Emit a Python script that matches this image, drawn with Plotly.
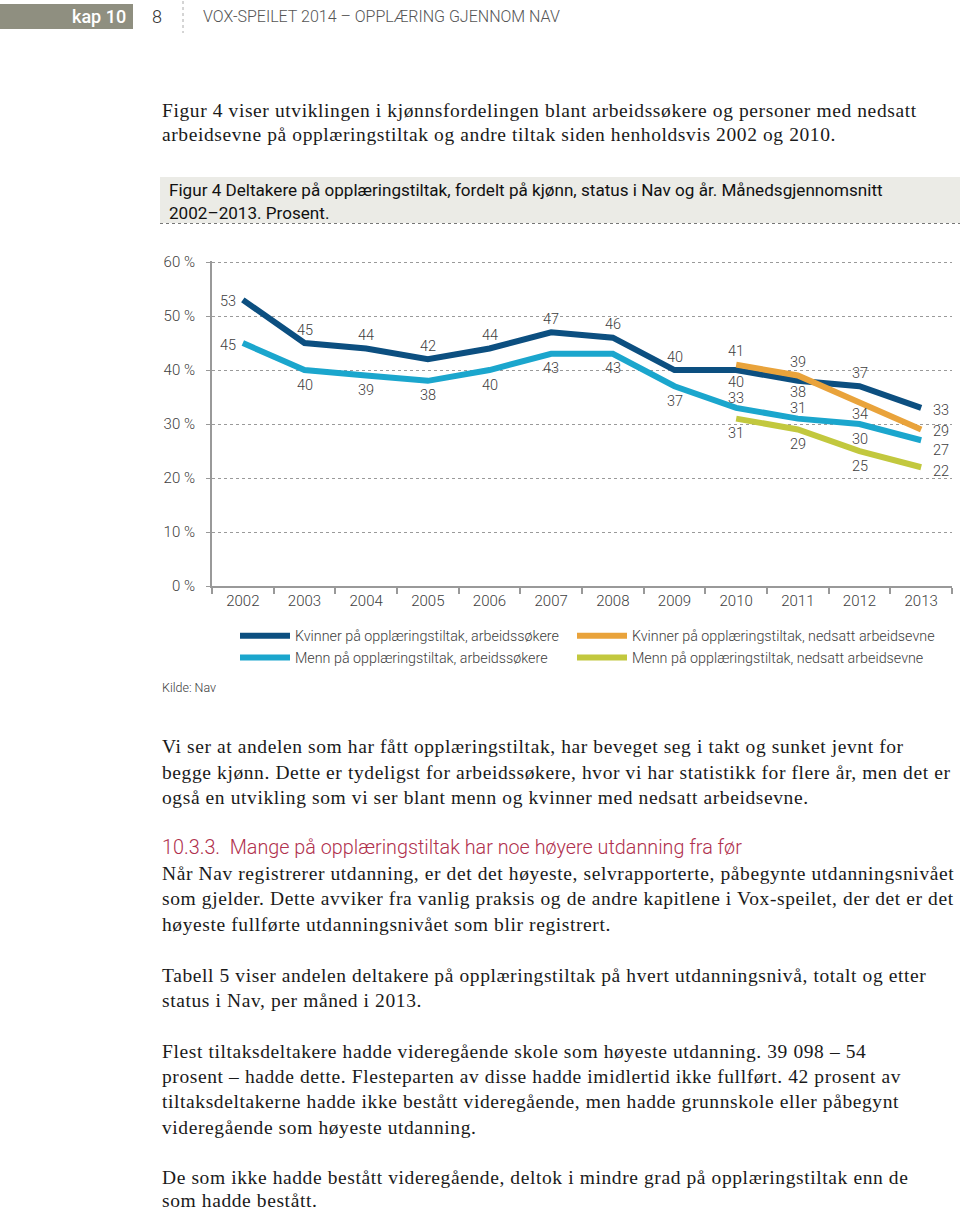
import plotly.graph_objects as go

# ---------------- data ----------------
years = ["2002", "2003", "2004", "2005", "2006", "2007", "2008", "2009", "2010", "2011", "2012", "2013"]
kvinner_arbeidssokere = [53, 45, 44, 42, 44, 47, 46, 40, 40, 38, 37, 33]
menn_arbeidssokere = [45, 40, 39, 38, 40, 43, 43, 37, 33, 31, 30, 27]
years_nedsatt = ["2010", "2011", "2012", "2013"]
kvinner_nedsatt = [41, 39, 34, 29]
menn_nedsatt = [31, 29, 25, 22]
y_ticks = [0, 10, 20, 30, 40, 50, 60]
y_ticklabels = ["0 %", "10 %", "20 %", "30 %", "40 %", "50 %", "60 %"]

names = [
    "Kvinner på opplæringstiltak, arbeidssøkere",
    "Menn på opplæringstiltak, arbeidssøkere",
    "Kvinner på opplæringstiltak, nedsatt arbeidsevne",
    "Menn på opplæringstiltak, nedsatt arbeidsevne",
]

# ---------------- style ----------------
W, H = 960, 1212
L, R, T, B = 212, 8, 261, 626
PW, PH = W - L - R, H - T - B

def xp(px):
    return (px - L) / PW

def yp(py):
    return (H - B - py) / PH

C_DARK = "#0c4f80"
C_LIGHT = "#1ba6cd"
C_ORANGE = "#e9a33b"
C_GREEN = "#c2c83e"
TXT = "#404040"
CHART_FONT = "Roboto"

# label offsets (pixels) per point: (dx, dy)
off_dark = [(-15, -2), (0, 13), (0, 13), (0, 13), (0, 13), (0, 13), (0, 13), (0, 13),
            (0, -12), (0, -11.5), (0, 13), (20, -3)]
off_light = [(-15, -2), (0, -15), (0, -15), (0, -15), (0, -15), (0, -15), (0, -15), (0, -15),
             (0, 9), (0, 10), (0, -15), (20, -10)]
off_orange = [(0, 13), (0, 13), (0, -12), (20, -2)]
off_green = [(0, -15), (0, -15), (0, -15), (20, -4)]

fig = go.Figure()

series = [
    (years, kvinner_arbeidssokere, names[0], C_DARK, 1, off_dark, "legend"),
    (years, menn_arbeidssokere, names[1], C_LIGHT, 2, off_light, "legend"),
    (years_nedsatt, menn_nedsatt, names[3], C_GREEN, 2, off_green, "legend2"),
    (years_nedsatt, kvinner_nedsatt, names[2], C_ORANGE, 1, off_orange, "legend2"),
]

annotations = []
for xs, ys, nm, col, rank, offs, leg in series:
    fig.add_trace(go.Scatter(
        x=xs, y=ys, name=nm, mode="lines",
        line=dict(color=col, width=6, shape="linear"),
        legendrank=rank, legend=leg, hoverinfo="skip",
    ))
    for x, y, (dx, dy) in zip(xs, ys, offs):
        annotations.append(dict(
            x=years.index(x), y=y, xref="x", yref="y", text=str(y), showarrow=False,
            xshift=dx, yshift=dy, xanchor="center", yanchor="middle",
            font=dict(family=CHART_FONT, size=14.5, color=TXT, weight=300),
        ))

# ---------------- page text ----------------
SERIF = "Liberation Serif"

def line(text, px, py, size=19.5, family=SERIF, color="#1a1a1a", weight=400, spacing=None):
    if spacing is not None:
        text = '<span style="letter-spacing:%spx">%s</span>' % (spacing, text)
    annotations.append(dict(
        x=xp(px), y=yp(py), xref="paper", yref="paper", text=text,
        showarrow=False, xanchor="left", yanchor="middle",
        font=dict(family=family, size=size, color=color, weight=weight),
    ))

def body(text, px, py):
    line(text, px, py, size=19.5, spacing=0.6)

# header
annotations.append(dict(x=xp(128), y=yp(16.5), xref="paper", yref="paper", text="kap 10",
                        showarrow=False, xanchor="right", yanchor="middle",
                        font=dict(family="Roboto", size=18, color="white", weight=500)))
line("8", 150, 16.5, size=18, family="Roboto", color="#333333", weight=300)
line("VOX-SPEILET 2014 – OPPLÆRING GJENNOM NAV", 201, 17, size=16.0, family="Roboto",
     color="#555555", weight=300)

body("Figur 4 viser utviklingen i kjønnsfordelingen blant arbeidssøkere og personer med nedsatt", 160, 110)
body("arbeidsevne på opplæringstiltak og andre tiltak siden henholdsvis 2002 og 2010.", 160, 135)

line("Figur 4 Deltakere på opplæringstiltak, fordelt på kjønn, status i Nav og år. Månedsgjennomsnitt",
     167, 190, size=17.1, family="Roboto", color="#111111", weight=400)
line("2002–2013. Prosent.", 167, 213, size=17.1, family="Roboto", color="#111111", weight=400)

line("Kilde: Nav", 160, 687, size=12.5, family="Roboto", color=TXT, weight=300)

body("Vi ser at andelen som har fått opplæringstiltak, har beveget seg i takt og sunket jevnt for", 160, 746)
body("begge kjønn. Dette er tydeligst for arbeidssøkere, hvor vi har statistikk for flere år, men det er", 160, 772)
body("også en utvikling som vi ser blant menn og kvinner med nedsatt arbeidsevne.", 160, 797)

line("10.3.3.  Mange på opplæringstiltak har noe høyere utdanning fra før", 160, 847, size=19.8,
     family="Roboto", color="#b0304d", weight=300)

body("Når Nav registrerer utdanning, er det det høyeste, selvrapporterte, påbegynte utdanningsnivået", 160, 873)
body("som gjelder. Dette avviker fra vanlig praksis og de andre kapitlene i Vox-speilet, der det er det", 160, 898)
body("høyeste fullførte utdanningsnivået som blir registrert.", 160, 924)

body("Tabell 5 viser andelen deltakere på opplæringstiltak på hvert utdanningsnivå, totalt og etter", 160, 975)
body("status i Nav, per måned i 2013.", 160, 1000)

body("Flest tiltaksdeltakere hadde videregående skole som høyeste utdanning. 39 098 – 54", 160, 1051)
body("prosent – hadde dette. Flesteparten av disse hadde imidlertid ikke fullført. 42 prosent av", 160, 1076)
body("tiltaksdeltakerne hadde ikke bestått videregående, men hadde grunnskole eller påbegynt", 160, 1101)
body("videregående som høyeste utdanning.", 160, 1127)

body("De som ikke hadde bestått videregående, deltok i mindre grad på opplæringstiltak enn de", 160, 1177)
body("som hadde bestått.", 160, 1200)

shapes = [
    dict(type="rect", xref="paper", yref="paper", x0=xp(0), x1=xp(133), y0=yp(4), y1=yp(29),
         fillcolor="#8f8f80", line=dict(width=0), layer="below"),
    dict(type="line", xref="paper", yref="paper", x0=xp(183), x1=xp(183), y0=yp(1), y1=yp(33),
         line=dict(color="#aaaaaa", width=1, dash="dot")),
    dict(type="rect", xref="paper", yref="paper", x0=xp(160), x1=xp(960), y0=yp(177), y1=yp(223),
         fillcolor="#ebebe6", line=dict(width=0), layer="below"),
    dict(type="line", xref="paper", yref="paper", x0=xp(160), x1=xp(960), y0=yp(223.5), y1=yp(223.5),
         line=dict(color="#777777", width=1, dash="dot")),
]

legend_style = dict(
    orientation="v", yanchor="top", xanchor="left", traceorder="normal", itemwidth=50,
    font=dict(family=CHART_FONT, size=14.3, color=TXT, weight=300),
    bgcolor="rgba(0,0,0,0)", itemclick=False, itemdoubleclick=False, tracegroupgap=0,
)

fig.update_layout(
    width=W, height=H,
    margin=dict(l=L, r=R, t=T, b=B, pad=0),
    paper_bgcolor="white", plot_bgcolor="white",
    annotations=annotations, shapes=shapes,
    showlegend=True,
    legend=dict(x=xp(235), y=yp(620), **legend_style),
    legend2=dict(x=xp(572), y=yp(620), **legend_style),
    xaxis=dict(
        type="category", categoryorder="array", categoryarray=years,
        range=[-0.5, 11.5], showgrid=False, zeroline=False,
        showline=True, linecolor="#999999", linewidth=2,
        ticks="outside", tickson="boundaries", ticklen=6, tickcolor="#999999", tickwidth=1.5,
        tickfont=dict(family=CHART_FONT, size=15, color=TXT, weight=300),
        fixedrange=True,
    ),
    yaxis=dict(
        range=[0, 60.2], tickvals=y_ticks, ticktext=y_ticklabels,
        showgrid=True, gridcolor="#9a9a9a", griddash="dot", gridwidth=1,
        zeroline=False, showline=True, linecolor="#999999", linewidth=2,
        ticks="outside", ticklen=4, tickcolor="#999999",
        ticklabelstandoff=8,
        tickfont=dict(family=CHART_FONT, size=15, color=TXT, weight=300),
        fixedrange=True,
    ),
)

fig.write_html("out.html")
